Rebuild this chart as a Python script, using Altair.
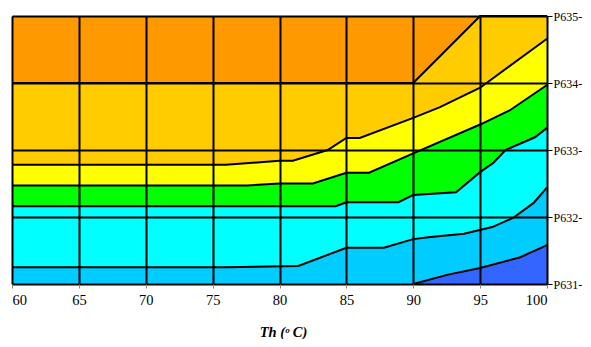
import altair as alt
import pandas as pd

x_ticks = [60, 65, 70, 75, 80, 85, 90, 95, 100]
y_ticks = [631, 632, 633, 634, 635]

# upper edge of each filled band (each band fills down to P631)
top_x = [60, 100]
top_y = [635, 635]
b1_x = [60, 90, 95, 100]
b1_y = [634, 634, 635, 635]
b2_x = [60, 76, 80, 81, 83.6, 85, 86, 90, 92, 95, 100]
b2_y = [632.78, 632.78, 632.84, 632.84, 633.0, 633.18, 633.18, 633.48, 633.64, 633.93, 634.66]
b3_x = [60, 77.6, 80, 82.5, 85, 86.7, 90, 95, 97.2, 100]
b3_y = [632.47, 632.47, 632.50, 632.50, 632.66, 632.66, 632.95, 633.38, 633.59, 633.97]
b4_x = [60, 84.2, 85, 88.9, 90, 93.2, 95, 96, 96.9, 99.1, 100]
b4_y = [632.16, 632.16, 632.22, 632.22, 632.33, 632.37, 632.67, 632.81, 633.0, 633.19, 633.33]
b5_x = [60, 76, 81.4, 85, 87.8, 90, 91.3, 93.8, 95.9, 97.5, 99, 100]
b5_y = [631.25, 631.25, 631.27, 631.54, 631.54, 631.67, 631.70, 631.75, 631.85, 631.99, 632.21, 632.44]
b6_x = [90, 92.6, 95, 98, 100]
b6_y = [631, 631.14, 631.24, 631.40, 631.58]

band_colors = ["#FF9900", "#FFCC00", "#FFFF00", "#00FF00", "#00FFFF", "#00CCFF", "#3366FF"]
edges = [(top_x, top_y), (b1_x, b1_y), (b2_x, b2_y), (b3_x, b3_y),
         (b4_x, b4_y), (b5_x, b5_y), (b6_x, b6_y)]

xs = alt.Scale(domain=[60, 100], nice=False, zero=False)
ys = alt.Scale(domain=[631, 635], nice=False, zero=False)

FONT = "Liberation Serif"

x_axis = alt.Axis(values=x_ticks, title="Th  (ᵒ C)", grid=True, gridColor="black",
                  gridWidth=2, gridOpacity=1, domain=False, tickColor="#888888",
                  tickSize=4, tickWidth=1, labelFont=FONT, labelFontSize=14.5,
                  labelColor="black", labelPadding=5, titleFont=FONT,
                  titleFontStyle="italic", titleFontWeight="bold", titleFontSize=14.5,
                  titleColor="black", titleBaseline="alphabetic", titleY=52,
                  titleX=271, titleAnchor="middle", titleAlign="center",
                  zindex=1, format="d")
y_axis = alt.Axis(values=y_ticks, orient="right", title=None, grid=True,
                  gridColor="black", gridWidth=2, gridOpacity=1, domain=False,
                  tickColor="black", tickSize=5, tickWidth=1, labelFont=FONT,
                  labelFontSize=12, labelColor="black", labelPadding=1,
                  labelExpr="'P' + datum.value + '-'", zindex=1)

layers = []
for (ex, ey), col in zip(edges, band_colors):
    df = pd.DataFrame({"x": ex, "y": ey})
    area = alt.Chart(df).mark_area(color=col, opacity=1, interpolate="linear").encode(
        x=alt.X("x:Q", scale=xs, axis=x_axis),
        y=alt.Y("y:Q", scale=ys, axis=y_axis),
        y2=alt.datum(631),
    )
    layers.append(area)

for ex, ey in edges[1:]:
    df = pd.DataFrame({"x": ex, "y": ey})
    line = alt.Chart(df).mark_line(color="black", strokeWidth=2).encode(
        x=alt.X("x:Q", scale=xs, axis=x_axis),
        y=alt.Y("y:Q", scale=ys, axis=y_axis),
    )
    layers.append(line)

chart = alt.layer(*layers).properties(
    width=535, height=268,
    autosize=alt.AutoSizeParams(type="none"),
    padding={"left": 4, "top": 8, "right": 36, "bottom": 55},
).configure_view(stroke=None)

chart.save("out.html", embed_options={"renderer": "svg", "actions": False})
